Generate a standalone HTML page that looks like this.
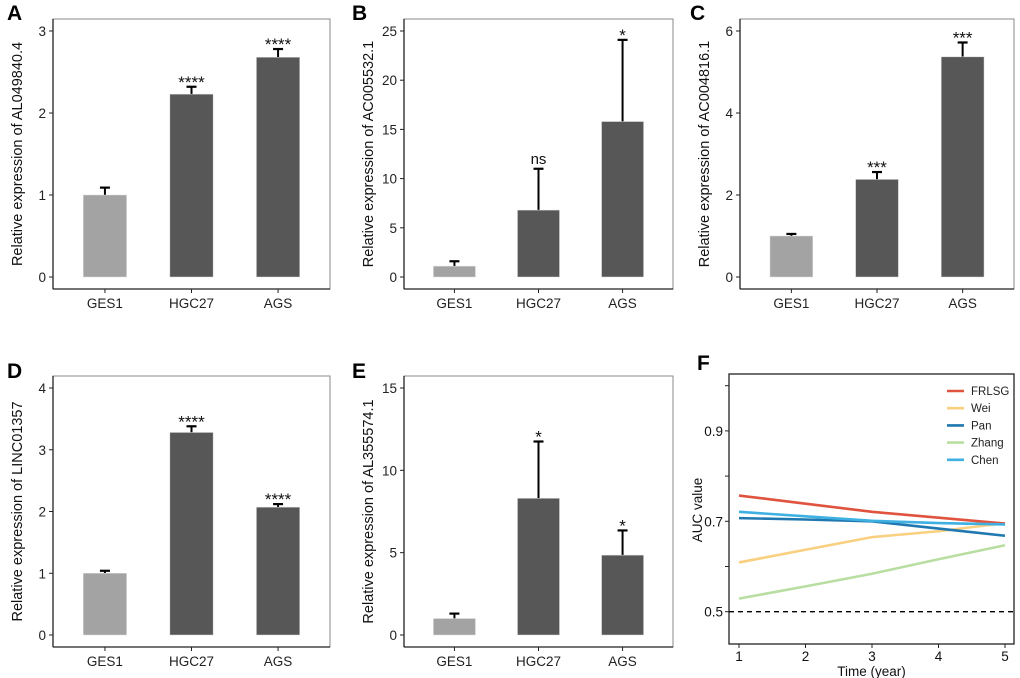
<!DOCTYPE html>
<html><head><meta charset="utf-8"><style>
html,body{margin:0;padding:0;background:#fff}
svg{display:block;font-family:"Liberation Sans",Arial,sans-serif}
</style></head><body>
<svg id="fig" width="1020" height="678" viewBox="0 0 1020 678"></svg>
<script>
const NS="http://www.w3.org/2000/svg";
const svg=document.getElementById('fig');
const categories=["GES1","HGC27","AGS"];
const aVals=[1.0,2.23,2.68], aErr=[0.09,0.09,0.10], aSig=["","****","****"], aTicks=[0,1,2,3];
const bVals=[1.1,6.8,15.8], bErr=[0.5,4.2,8.3], bSig=["","ns","*"], bTicks=[0,5,10,15,20,25];
const cVals=[1.0,2.38,5.37], cErr=[0.05,0.18,0.35], cSig=["","***","***"], cTicks=[0,2,4,6];
const dVals=[1.0,3.28,2.07], dErr=[0.04,0.10,0.05], dSig=["","****","****"], dTicks=[0,1,2,3,4];
const eVals=[1.0,8.3,4.85], eErr=[0.3,3.45,1.5], eSig=["","*","*"], eTicks=[0,5,10,15];
const years=[1,2,3,4,5];
const seriesNames=["FRLSG","Wei","Pan","Zhang","Chen"];
const frlsg=[0.757,0.739,0.721,0.708,0.695];
const wei=[0.609,0.637,0.665,0.678,0.696];
const pan=[0.707,0.704,0.700,0.684,0.668];
const zhang=[0.529,0.556,0.584,0.616,0.647];
const chen=[0.721,0.711,0.701,0.696,0.693];
const fTicks=[0.5,0.6,0.7,0.8,0.9,1.0];
const fTickLabels=["0.5","","0.7","","0.9",""];

function el(tag,attrs,parent){const e=document.createElementNS(NS,tag);for(const k in attrs)e.setAttribute(k,attrs[k]);(parent||svg).appendChild(e);return e;}
function txt(s,attrs,parent){const t=el('text',attrs,parent);t.textContent=s;return t;}

function barPanel(name,letter,lx,ly,box,ytop,ypx,title,vals,errs,sigs,ticks){
  const g=el('g',{});
  
  
  const [x0,x1,y0,y1]=box;
  const tmax=ticks[ticks.length-1];
  const Y=v=>ypx[1]+(ypx[0]-ypx[1])*v/tmax;
  const unit=(x1-x0)/3.2;
  const X=i=>x0+unit*(0.6+i);
  const L=txt(letter,{x:lx,y:ly,'font-size':21,'font-weight':'bold',fill:'#000'},g);
  
  const r=el('rect',{x:x0,y:y0,width:x1-x0,height:y1-y0,fill:'#fff',stroke:'#888','stroke-width':1},g);
  
  el('line',{x1:x0,y1:y0,x2:x0,y2:y1,stroke:'#222','stroke-width':1.3},g);
  el('line',{x1:x0,y1:y1,x2:x1,y2:y1,stroke:'#222','stroke-width':1.3},g);
  ticks.forEach(t=>{
    el('line',{x1:x0-4,x2:x0,y1:Y(t),y2:Y(t),stroke:'#222'},g);
    const tl=txt(String(t),{x:x0-7,y:Y(t)+5,'font-size':13.5,'text-anchor':'end',fill:'#222'},g);
    
  });
  const bw=unit*0.5;
  vals.forEach((v,i)=>{
    const cx=X(i);
    const top=Y(v+errs[i]);
    el('line',{x1:cx,x2:cx,y1:Y(v),y2:top,stroke:'#000','stroke-width':2},g);
    el('line',{x1:cx-5,x2:cx+5,y1:top,y2:top,stroke:'#000','stroke-width':2.2},g);
    const b=el('rect',{x:cx-bw/2,y:Y(v),width:bw,height:Y(0)-Y(v),fill:i==0?'#a3a3a3':'#575757',stroke:'#ddd','stroke-width':0.5},g);
    
    if(sigs[i]){const isNs=sigs[i]=='ns';
      const s=txt(sigs[i],{x:cx,y:isNs?top-5:top+1,'font-size':isNs?15:17,'text-anchor':'middle',fill:'#111'},g);
      }
    el('line',{x1:cx,x2:cx,y1:y1,y2:y1+4,stroke:'#222'},g);
    const xl=txt(categories[i],{x:cx,y:y1+19,'font-size':13.5,'text-anchor':'middle',fill:'#222'},g);
    
  });
  const tx=x0-31, ty=(y0+y1)/2;
  const at=txt(title,{x:tx,y:ty,'font-size':14.5,'text-anchor':'middle',fill:'#111',transform:`rotate(-90 ${tx} ${ty})`},g);
  
}
barPanel('panel-a','A',7,20,[53,330,19,289],3,[31,277],'Relative expression of AL049840.4',aVals,aErr,aSig,aTicks);
barPanel('panel-b','B',352,20,[404,673,19,289],25,[31,277],'Relative expression of AC005532.1',bVals,bErr,bSig,bTicks);
barPanel('panel-c','C',690,20,[740,1014,19,289],6,[31,277],'Relative expression of AC004816.1',cVals,cErr,cSig,cTicks);
barPanel('panel-d','D',7,378,[53,330,376,647],4,[388,635],'Relative expression of LINC01357',dVals,dErr,dSig,dTicks);
barPanel('panel-e','E',352,378,[404,673,376,647],15,[388,635],'Relative expression of AL355574.1',eVals,eErr,eSig,eTicks);

// Panel F
(function(){
  const g=el('g',{});
  
  
  const x0=729,x1=1014,y0=374,y1=644;
  const X=t=>739+(t-1)*(1005-739)/4;
  const Y=v=>611.7-(v-0.5)*452;
  const L=txt('F',{x:697,y:370,'font-size':21,'font-weight':'bold',fill:'#000'},g);
  
  const r=el('rect',{x:x0,y:y0,width:x1-x0,height:y1-y0,fill:'#fff',stroke:'#222','stroke-width':1.3},g);
  
  fTicks.forEach((t,i)=>{
    el('line',{x1:x0-4,x2:x0,y1:Y(t),y2:Y(t),stroke:'#222'},g);
    if(fTickLabels[i]){const tl=txt(fTickLabels[i],{x:x0-6,y:Y(t)+5,'font-size':13.5,'text-anchor':'end',fill:'#111'},g);
      }
  });
  years.forEach(t=>{
    el('line',{x1:X(t),x2:X(t),y1:y1,y2:y1+4,stroke:'#222'},g);
    const xl=txt(String(t),{x:X(t),y:y1+17,'font-size':13.5,'text-anchor':'middle',fill:'#111'},g);
    
  });
  const ref=el('line',{x1:x0,x2:x1,y1:Y(0.5),y2:Y(0.5),stroke:'#000','stroke-width':1.3,'stroke-dasharray':'5,4'},g);
  
  const data=[frlsg,wei,pan,zhang,chen];
  const colors=['#e0533f','#f9cf80','#1f78b0','#b9dea2','#3eb1e2'];
  [3,1,0,2,4].forEach(k=>{
    const pts=data[k].map((v,i)=>X(years[i])+','+Y(v)).join(' ');
    const pl=el('polyline',{points:pts,fill:'none',stroke:colors[k],'stroke-width':2.6},g);
    
  });
  seriesNames.forEach((n,k)=>{
    const y=391+k*17.2;
    const lg=el('g',{},g);
    
    
    el('line',{x1:947,x2:964,y1:y,y2:y,stroke:colors[k],'stroke-width':2.6},lg);
    txt(n,{x:971,y:y+4,'font-size':11.5,fill:'#222'},lg);
  });
  const xt=txt('Time (year)',{x:(x0+x1)/2,y:676,'font-size':13.5,'text-anchor':'middle',fill:'#111'},g);
  
  const yt=txt('AUC value',{x:702,y:510,'font-size':13.5,'text-anchor':'middle',fill:'#111',transform:'rotate(-90 702 510)'},g);
  
})();
</script>
</body></html>
